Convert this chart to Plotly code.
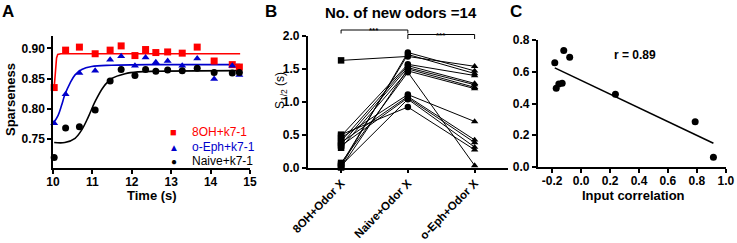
import numpy as np
import plotly.graph_objects as go

W, H = 737, 243
FONT = "Liberation Sans, Arial, sans-serif"

# ---------------- Panel A data ----------------
time_s = [10.03, 10.32, 10.67, 11.07, 11.45, 11.73, 12.08, 12.35, 12.61, 12.91,
          13.28, 13.66, 14.09, 14.55, 14.73]
sp_8oh = [0.835, 0.897, 0.902, 0.891, 0.897, 0.904, 0.888, 0.898, 0.893, 0.894,
          0.892, 0.902, 0.879, 0.873, 0.869]
sp_oeph = [0.776, 0.824, 0.859, 0.863, 0.881, 0.887, 0.871, 0.885, 0.877, 0.879,
           0.871, 0.883, 0.849, 0.871, 0.856]
sp_naive = [0.719, 0.768, 0.770, 0.798, 0.846, 0.865, 0.855, 0.865, 0.862, 0.864,
            0.863, 0.867, 0.860, 0.859, 0.860]

fit_8oh_t = [10.03, 10.06, 10.09, 10.12, 10.2, 14.75]
fit_8oh_v = [0.835, 0.860, 0.884, 0.890, 0.891, 0.891]
fit_oeph_t = [10.03, 10.13, 10.22, 10.30, 10.43, 10.56, 10.73, 10.98, 11.49, 12.5, 14.75]
fit_oeph_v = [0.778, 0.789, 0.806, 0.823, 0.842, 0.856, 0.865, 0.870, 0.872, 0.873, 0.873]
fit_naive_t = [10.03, 10.30, 10.56, 10.73, 10.90, 11.07, 11.28, 11.49, 11.83, 12.17, 12.59, 14.75]
fit_naive_v = [0.744, 0.744, 0.751, 0.765, 0.787, 0.812, 0.836, 0.850, 0.858, 0.861, 0.862, 0.863]

legend_names = ["8OH+k7-1", "o-Eph+k7-1", "Naive+k7-1"]
a_xticks = [10, 11, 12, 13, 14, 15]
a_yticks = [0.75, 0.80, 0.85, 0.90]

# ---------------- Panel B data ----------------
b_categories = ["8OH+Odor X", "Naive+Odor X", "o-Eph+Odor X"]
s_8oh = [1.63, 0.02, 0.05, 0.48, 0.40, 0.35, 0.00, 0.30, 0.07, 0.45, 0.38, 0.33, 0.03, 0.50]
s_naive = [1.69, 1.75, 1.72, 1.57, 1.55, 1.52, 1.50, 1.47, 1.45, 1.11, 1.08, 1.06, 1.04, 0.92]
s_oeph = [1.54, 1.47, 1.43, 1.40, 1.28, 1.26, 1.22, 1.20, 0.03, 0.70, 0.42, 0.38, 0.31, 0.27]
b_title = "No. of new odors =14"
b_yticks = [0.0, 0.5, 1.0, 1.5, 2.0]

# ---------------- Panel C data ----------------
input_corr = [-0.182, -0.120, -0.079, -0.172, -0.154, -0.131, 0.237, 0.788, 0.914]
c_values = [0.658, 0.734, 0.692, 0.497, 0.524, 0.528, 0.459, 0.286, 0.061]
r_label = "r = 0.89"
c_xticks = [-0.2, 0.0, 0.2, 0.4, 0.6, 0.8, 1.0]
c_yticks = [0.0, 0.2, 0.4, 0.6, 0.8]

RED, BLUE, BLACK = "#ff0000", "#0000cc", "#000000"


def px(x):
    return x / W


def py(y):
    return 1 - y / H


def bold(vals, fmt):
    return [f"<b>{format(v, fmt)}</b>" if fmt else f"<b>{v}</b>" for v in vals]


fig = go.Figure()

# Panel A
for t, v, c in [(fit_8oh_t, fit_8oh_v, RED), (fit_oeph_t, fit_oeph_v, BLUE),
                (fit_naive_t, fit_naive_v, BLACK)]:
    fig.add_trace(go.Scatter(x=t, y=v, mode="lines", line=dict(color=c, width=1.6,
                             shape="linear" if c == RED else "spline"),
                             xaxis="x", yaxis="y", showlegend=False, hoverinfo="skip"))
for v, c, sym in [(sp_8oh, RED, "square"), (sp_oeph, BLUE, "triangle-up"),
                  (sp_naive, BLACK, "circle")]:
    fig.add_trace(go.Scatter(x=time_s, y=v, mode="markers",
                             marker=dict(color=c, symbol=sym, size=7),
                             xaxis="x", yaxis="y", showlegend=False, cliponaxis=False))

# Panel B
for a, b, c in zip(s_8oh, s_naive, s_oeph):
    fig.add_trace(go.Scatter(x=b_categories, y=[a, b, c], mode="lines",
                             line=dict(color="black", width=1), xaxis="x2", yaxis="y2",
                             showlegend=False, hoverinfo="skip"))
for vals, cat, sym in [(s_8oh, b_categories[0], "square"), (s_naive, b_categories[1], "circle"),
                       (s_oeph, b_categories[2], "triangle-up")]:
    fig.add_trace(go.Scatter(x=[cat] * len(vals), y=vals, mode="markers",
                             marker=dict(color="black", symbol=sym, size=6.5),
                             xaxis="x2", yaxis="y2", showlegend=False, cliponaxis=False))

# Panel C
slope, intercept = np.polyfit(input_corr, c_values, 1)
xl = np.array([min(input_corr), max(input_corr)])
fig.add_trace(go.Scatter(x=xl, y=slope * xl + intercept, mode="lines",
                         line=dict(color="black", width=1.6), xaxis="x3", yaxis="y3",
                         showlegend=False, hoverinfo="skip"))
fig.add_trace(go.Scatter(x=input_corr, y=c_values, mode="markers",
                         marker=dict(color="black", size=7), xaxis="x3", yaxis="y3",
                         showlegend=False, cliponaxis=False))

tickfont = dict(family=FONT, size=12, color="black")
axis_common = dict(showline=True, linecolor="black", linewidth=1.5, ticks="outside",
                   ticklen=4, tickwidth=1.5, tickcolor="black", showgrid=False,
                   zeroline=False, tickfont=tickfont, fixedrange=True, automargin=False)
b_axis = dict(axis_common)
b_axis["tickfont"] = dict(family=FONT, size=11.5, color="black")

fig.update_layout(
    template="none",
    width=W, height=H, margin=dict(l=0, r=0, t=0, b=0, pad=0, autoexpand=False),
    paper_bgcolor="white", plot_bgcolor="white", showlegend=False,
    xaxis=dict(domain=[px(53), px(250)], range=[10, 15], tickvals=a_xticks,
               ticktext=bold(a_xticks, ""), anchor="y", ticklabelstandoff=-2, **axis_common),
    yaxis=dict(domain=[py(168), py(36)], range=[0.7018, 0.9204],
               tickvals=a_yticks, ticktext=bold(a_yticks, ".2f"), anchor="x", **axis_common),
    xaxis2=dict(domain=[px(307.7), px(508)], range=[-0.5, 2.5], type="category",
                tickvals=b_categories, ticktext=bold(b_categories, ""),
                tickangle=-46, anchor="y2", ticklabelstandoff=-1, **b_axis),
    yaxis2=dict(domain=[py(167.5), py(36)], range=[0, 2.001], tickvals=b_yticks,
                ticktext=bold(b_yticks, ".1f"), anchor="x2", **axis_common),
    xaxis3=dict(domain=[px(537.7), px(726)], range=[-0.3, 1.001],
                tickvals=c_xticks, ticktext=bold(c_xticks, ".1f"), anchor="y3",
                ticklabelstandoff=-2, **axis_common),
    yaxis3=dict(domain=[py(167), py(40)], range=[0, 0.801], tickvals=c_yticks,
                ticktext=bold(c_yticks, ".1f"), anchor="x3", **axis_common),
)

ann = []


def text(x, y, s, size=12, bold=True, color="black", angle=0, xanchor="center", **kw):
    ann.append(dict(x=px(x), y=py(y), xref="paper", yref="paper", text=s, showarrow=False,
                    xanchor=xanchor, yanchor="middle", textangle=angle,
                    font=dict(family=FONT, size=size, color=color,
                              weight="bold" if bold else "normal"), **kw))


# panel letters
text(8, 11, "A", size=17)
text(271, 11, "B", size=17)
text(516, 11, "C", size=17)
# axis titles
text(152, 195, "Time (s)", size=13)
text(10, 100, "Sparseness", size=13, angle=-90)
text(281, 91, "S<sub>1/2</sub> (s)", size=12, bold=False, angle=-90)
text(633, 195, "Input correlation", size=13)
# B title
text(401, 12, b_title, size=15)
# legend for A
for i, (nm, c, g) in enumerate(zip(legend_names, [RED, BLUE, BLACK], ["■", "▲", "●"])):
    yy = [132, 147, 161][i]
    text(173.5, yy, g, size=10 if g != "■" else 11, bold=False, color=c)
    text(190, yy, nm, size=12, bold=False, color=c, xanchor="left")
# r label
ann.append(dict(x=0.374, y=0.707, xref="x3", yref="y3", text=r_label, showarrow=False,
                font=dict(family=FONT, size=12, color="black", weight="bold")))
# significance stars
ann.append(dict(x=0.5, y=py(24), xref="x2", yref="paper", text="<b>***</b>", showarrow=False,
                font=dict(family=FONT, size=8, color="black")))
ann.append(dict(x=1.5, y=py(29), xref="x2", yref="paper", text="<b>***</b>", showarrow=False,
                font=dict(family=FONT, size=8, color="black")))
fig.update_layout(annotations=ann)

shapes = []
for (x0, x1, ytop, ybot) in [(0, 1, 30, 33.5), (1, 2, 34.5, 39)]:
    shapes.append(dict(type="path", xref="x2", yref="paper",
                       path=f"M {x0},{py(ybot)} L {x0},{py(ytop)} L {x1},{py(ytop)} L {x1},{py(ybot)}",
                       line=dict(color="black", width=1)))
fig.update_layout(shapes=shapes)

fig.write_html("out.html", config={"displayModeBar": False},
               post_script="document.body.style.margin='0';document.body.style.overflow='hidden';")
